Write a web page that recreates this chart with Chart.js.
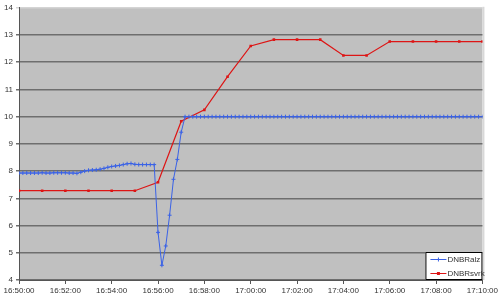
<!DOCTYPE html>
<html>
<head>
<meta charset="utf-8">
<script src="https://cdn.jsdelivr.net/npm/chart.js@4"></script>
<style>
  html, body { margin: 0; padding: 0; background: #fff; }
  #wrap { width: 500px; height: 301px; position: relative; }
</style>
</head>
<body>
<div id="wrap"><canvas id="chart"></canvas></div>
<script>
// series sampling (seconds after 16:50:00)
var startTime = "16:50:00";
var blueStepSec = 10;
var redStepSec = 60;

// DNBRalz, one value every 10 s
var dnbrAlz = [
	7.93, 7.93, 7.93, 7.93, 7.93, 7.93, 7.94, 7.93, 7.93, 7.94, 7.94, 7.94, 7.94, 7.93, 7.93,
	7.92, 7.96, 8.00, 8.03, 8.04, 8.05, 8.07, 8.10, 8.14, 8.17, 8.19, 8.21, 8.24, 8.27, 8.28,
	8.25, 8.24, 8.24, 8.24, 8.24, 8.24,
	5.75, 4.54, 5.25, 6.38, 7.70, 8.43, 9.43,
	10, 10, 10, 10, 10, 10, 10, 10, 10, 10, 10, 10, 10, 10, 10, 10, 10, 10, 10, 10,
	10, 10, 10, 10, 10, 10, 10, 10, 10, 10, 10, 10, 10, 10, 10, 10, 10, 10, 10, 10,
	10, 10, 10, 10, 10, 10, 10, 10, 10, 10, 10, 10, 10, 10, 10, 10, 10, 10, 10, 10,
	10, 10, 10, 10, 10, 10, 10, 10, 10, 10, 10, 10, 10, 10, 10, 10, 10, 10
];

// DNBRsvrk, one value every minute
var dnbrSvrk = [
	7.28, 7.28, 7.28, 7.28, 7.28, 7.28, 7.59, 9.83, 10.25, 11.47, 12.60,
	12.83, 12.83, 12.83, 12.25, 12.25, 12.76, 12.76, 12.76, 12.76, 12.76
];

var tickLabels = ["16:50:00", "16:52:00", "16:54:00", "16:56:00", "16:58:00", "17:00:00",
	"17:02:00", "17:04:00", "17:06:00", "17:08:00", "17:10:00"];
var seriesNames = ["DNBRalz", "DNBRsvrk"];
var seriesColors = ["#3a62e6", "#dd1515"];

var fontFamily = '"Liberation Sans", Arial, sans-serif';

const toPoints = (values, step) => values.map((v, i) => ({ x: i * step, y: v }));

// grey plot background + light top/right border
const plotBackground = {
	id: 'plotBackground',
	beforeDraw: (chart) => {
		const a = chart.chartArea, ctx = chart.ctx;
		ctx.save();
		ctx.fillStyle = '#c0c0c0';
		ctx.fillRect(a.left, a.top, a.right - a.left, a.bottom - a.top);
		ctx.fillStyle = '#d8d8d8';
		ctx.fillRect(a.right, a.top - 1, 2, a.bottom - a.top + 1);
		ctx.restore();
	}
};

// legend box in the lower right corner of the plot
const boxLegend = {
	id: 'boxLegend',
	afterDraw: (chart) => {
		const a = chart.chartArea, ctx = chart.ctx;
		const w = 57, h = 28;
		const x = a.right - w, y = a.bottom - h;
		ctx.save();
		ctx.fillStyle = '#fff';
		ctx.fillRect(x, y, w, h);
		ctx.strokeStyle = '#000';
		ctx.lineWidth = 1;
		ctx.strokeRect(x + 0.5, y + 0.5, w - 1, h - 1);
		ctx.font = '8px ' + fontFamily;
		ctx.textBaseline = 'middle';
		seriesNames.forEach((name, i) => {
			const cy = y + 7.5 + i * 14;
			ctx.strokeStyle = seriesColors[i];
			ctx.beginPath();
			ctx.moveTo(x + 5, cy);
			ctx.lineTo(x + 21, cy);
			ctx.stroke();
			if (i === 0) {
				ctx.beginPath();
				ctx.moveTo(x + 13, cy - 2);
				ctx.lineTo(x + 13, cy + 2);
				ctx.stroke();
			} else {
				ctx.fillStyle = seriesColors[i];
				ctx.fillRect(x + 11.5, cy - 1.5, 3, 3);
			}
			ctx.fillStyle = '#333';
			ctx.fillText(name, x + 22, cy + 0.5);
		});
		ctx.restore();
	}
};

const chart = new Chart(document.getElementById('chart'), {
	type: 'line',
	data: {
		datasets: [
			{
				label: seriesNames[0],
				data: toPoints(dnbrAlz, blueStepSec),
				borderColor: seriesColors[0],
				backgroundColor: seriesColors[0],
				borderWidth: 1,
				pointStyle: 'cross',
				pointRadius: 2,
				pointBorderWidth: 1,
				tension: 0
			},
			{
				label: seriesNames[1],
				data: toPoints(dnbrSvrk, redStepSec),
				borderColor: seriesColors[1],
				backgroundColor: seriesColors[1],
				borderWidth: 1.2,
				pointStyle: 'rect',
				pointRadius: 1.8,
				pointBorderWidth: 0,
				tension: 0
			}
		]
	},
	options: {
		responsive: true,
		maintainAspectRatio: false,
		animation: false,
		layout: { padding: { top: 7, right: 14, left: 0, bottom: 0 } },
		plugins: {
			legend: { display: false },
			tooltip: { enabled: false }
		},
		scales: {
			x: {
				type: 'linear',
				min: 0,
				max: 1200,
				afterFit: (s) => { s.height = 21; },
				ticks: {
					stepSize: 120,
					maxRotation: 0,
					autoSkip: false,
					padding: 2,
					color: '#333',
					font: { family: fontFamily, size: 8 },
					callback: (v) => tickLabels[Math.round(v / 120)]
				},
				grid: { drawOnChartArea: false, drawTicks: true, tickLength: 4, color: '#555' },
				border: { color: '#555', width: 1 }
			},
			y: {
				min: 4,
				max: 14,
				afterFit: (s) => { s.width = 19; },
				ticks: {
					stepSize: 1,
					padding: 3,
					color: '#333',
					font: { family: fontFamily, size: 8 }
				},
				grid: {
					color: (c) => (c.tick && c.tick.value === 14) ? '#d4d4d4' : '#6e6e6e',
					lineWidth: 1.5,
					tickLength: 3
				},
				border: { color: '#555', width: 1 }
			}
		}
	},
	plugins: [plotBackground, boxLegend]
});
</script>
</body>
</html>
